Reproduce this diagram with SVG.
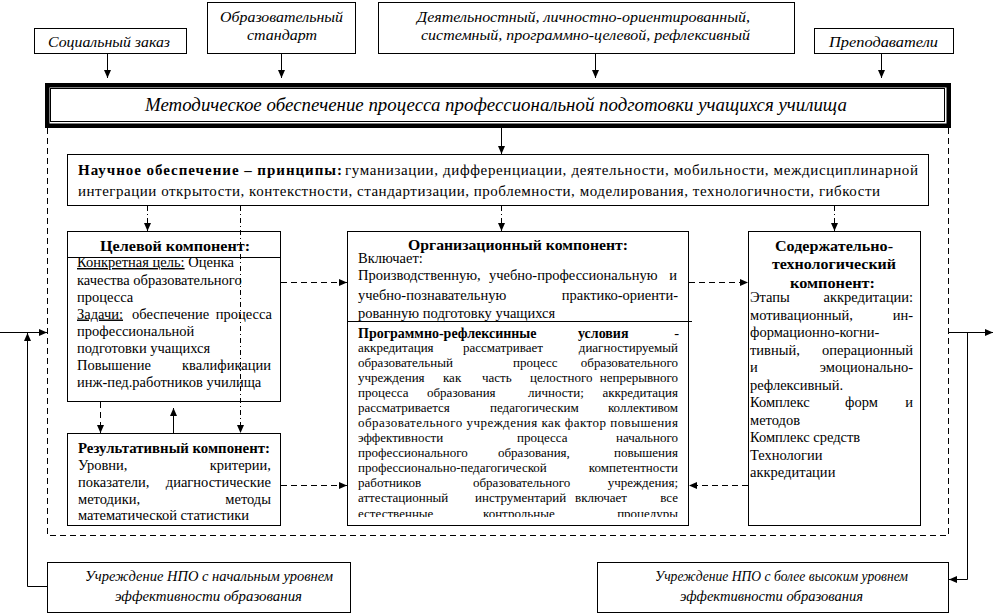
<svg xmlns="http://www.w3.org/2000/svg" width="996" height="615" viewBox="0 0 996 615">
<style>
.box{fill:#fff;stroke:#000;stroke-width:1}
.ln{fill:none;stroke:#000;stroke-width:1}
.dash{stroke-dasharray:6,4}
.dd{stroke-dasharray:5,3,1,3}
.it{font-family:"Liberation Serif","Times New Roman",serif;font-style:italic;font-size:15px;fill:#000}
.tx{font-family:"Liberation Serif","Times New Roman",serif;font-size:14.5px;fill:#000}
.sm{font-size:13px}
.b{font-weight:bold}
.u{text-decoration:underline}
.m{text-anchor:middle}
.e{text-anchor:end}
</style>
<defs>
<marker id="ah" markerUnits="userSpaceOnUse" markerWidth="9" markerHeight="7" refX="8" refY="3.5" orient="auto">
<path d="M0,0 L8,3.5 L0,7 z" fill="#000"/>
</marker>
<clipPath id="orgclip"><rect x="348" y="232" width="340" height="285"/></clipPath>
</defs>

<!-- Top source nodes -->
<g id="n-social">
<rect class="box" x="34.5" y="28.5" width="152" height="25"/>
<text class="it m" x="109" y="47" textLength="122" lengthAdjust="spacingAndGlyphs">Социальный заказ</text>
</g>
<g id="n-standard">
<rect class="box" x="207.5" y="2.5" width="148" height="51"/>
<text class="it m" x="281.5" y="22" textLength="123" lengthAdjust="spacingAndGlyphs">Образовательный</text>
<text class="it m" x="282" y="40" textLength="70" lengthAdjust="spacingAndGlyphs">стандарт</text>
</g>
<g id="n-approaches">
<rect class="box" x="378.5" y="2.5" width="416" height="51"/>
<text class="it m" x="583.5" y="22" textLength="333" lengthAdjust="spacingAndGlyphs">Деятельностный, личностно-ориентированный,</text>
<text class="it m" x="585.5" y="40" textLength="329" lengthAdjust="spacingAndGlyphs">системный, программно-целевой, рефлексивный</text>
</g>
<g id="n-teachers">
<rect class="box" x="814.5" y="28.5" width="139" height="25"/>
<text class="it m" x="883.5" y="47" textLength="109" lengthAdjust="spacingAndGlyphs">Преподаватели</text>
</g>

<!-- Title -->
<g id="n-title">
<rect x="47.25" y="85.25" width="901.5" height="40.5" fill="#fff" stroke="#000" stroke-width="4.5"/>
<rect x="50.5" y="88.5" width="894" height="33" fill="none" stroke="#000" stroke-width="1"/>
<text class="it m" x="496" y="111" style="font-size:19px" textLength="702" lengthAdjust="spacingAndGlyphs">Методическое обеспечение процесса профессиональной подготовки учащихся училища</text>
</g>

<!-- Science -->
<g id="n-science">
<rect class="box" x="67.5" y="154.5" width="861" height="51"/>
<text class="tx b" x="78" y="175" style="font-size:15px" textLength="264" lengthAdjust="spacing">Научное обеспечение – принципы:</text>
<text class="tx" x="345" y="175" style="font-size:15px" textLength="573" lengthAdjust="spacing">гуманизации, дифференциации, деятельности, мобильности, междисциплинарной</text>
<text class="tx" x="78" y="196" style="font-size:15px" textLength="802" lengthAdjust="spacing">интеграции открытости, контекстности, стандартизации, проблемности,  моделирования, технологичности, гибкости</text>
</g>

<!-- Target component -->
<g id="n-target">
<rect class="box" x="67.5" y="231.5" width="213" height="170"/>
<line class="ln" x1="67.5" y1="257.5" x2="280.5" y2="257.5"/>
<text class="tx b m" x="175" y="251" style="font-size:14px" textLength="150" lengthAdjust="spacingAndGlyphs">Целевой компонент:</text>
<text class="tx" x="77" y="267"><tspan class="u">Конкретная цель:</tspan> Оценка</text>
<text class="tx" x="77" y="285">качества образовательного</text>
<text class="tx" x="77" y="302">процесса</text>
<text class="tx" x="77" y="318.5"><tspan class="u">Задачи:</tspan></text>
<text class="tx" x="132" y="318.5">обеспечение</text>
<text class="tx e" x="272" y="318.5">процесса</text>
<text class="tx" x="77" y="336">профессиональной</text>
<text class="tx" x="77" y="352.5">подготовки учащихся</text>
<text class="tx" x="77" y="369.5">Повышение</text>
<text class="tx e" x="271" y="369.5">квалификации</text>
<text class="tx" x="77" y="387">инж-пед.работников училища</text>
</g>

<!-- Result component -->
<g id="n-result">
<rect class="box" x="67.5" y="433.5" width="213" height="92"/>
<text class="tx b" x="78" y="453" style="font-size:14px" textLength="192" lengthAdjust="spacingAndGlyphs">Результативный компонент:</text>
<text class="tx" x="78" y="470">Уровни,</text>
<text class="tx e" x="271" y="470">критерии,</text>
<text class="tx" x="78" y="487">показатели,</text>
<text class="tx e" x="271" y="487">диагностические</text>
<text class="tx" x="78" y="503.5">методики,</text>
<text class="tx e" x="271" y="503.5">методы</text>
<text class="tx" x="78" y="520">математической статистики</text>
</g>

<!-- Organizational component -->
<g id="n-org">
<rect class="box" x="347.5" y="231.5" width="341" height="294"/>
<text class="tx b m" x="518" y="250" style="font-size:14px" textLength="220" lengthAdjust="spacingAndGlyphs">Организационный компонент:</text>
<text class="tx" x="358" y="263">Включает:</text>
<text class="tx" x="358" y="280">Производственную,</text>
<text class="tx" x="489" y="280">учебно-профессиональную</text>
<text class="tx e" x="677" y="280">и</text>
<text class="tx" x="358" y="300">учебно-познавательную</text>
<text class="tx e" x="678" y="300">практико-ориенти-</text>
<text class="tx" x="358" y="318">рованную подготовку учащихся</text>
<line class="ln" x1="348" y1="321.5" x2="692" y2="321.5"/>
<text class="tx b" x="358" y="338" style="font-size:14px">Программно-рефлексинные</text>
<text class="tx b" x="578" y="338" style="font-size:14px">условия</text>
<text class="tx e" x="679" y="338">-</text>
<g clip-path="url(#orgclip)">
<text class="tx sm" x="358" y="352">аккредитация</text>
<text class="tx sm" x="463" y="352">рассматривает</text>
<text class="tx sm e" x="678" y="352">диагностируемый</text>
<text class="tx sm" x="358" y="367">образовательный</text>
<text class="tx sm" x="513" y="367">процесс</text>
<text class="tx sm e" x="678" y="367">образовательного</text>
<text class="tx sm" x="358" y="382">учреждения</text>
<text class="tx sm" x="443" y="382">как</text>
<text class="tx sm" x="482" y="382">часть</text>
<text class="tx sm" x="530" y="382">целостного</text>
<text class="tx sm e" x="678" y="382">непрерывного</text>
<text class="tx sm" x="358" y="397">процесса</text>
<text class="tx sm" x="427" y="397">образования</text>
<text class="tx sm" x="528" y="397">личности;</text>
<text class="tx sm e" x="678" y="397">аккредитация</text>
<text class="tx sm" x="358" y="412">рассматривается</text>
<text class="tx sm" x="490" y="412">педагогическим</text>
<text class="tx sm e" x="678" y="412">коллективом</text>
<text class="tx sm" x="358" y="427" textLength="320" lengthAdjust="spacing">образовательного учреждения как фактор повышения</text>
<text class="tx sm" x="358" y="442">эффективности</text>
<text class="tx sm" x="517" y="442">процесса</text>
<text class="tx sm e" x="678" y="442">начального</text>
<text class="tx sm" x="358" y="457">профессионального</text>
<text class="tx sm" x="498" y="457">образования,</text>
<text class="tx sm e" x="678" y="457">повышения</text>
<text class="tx sm" x="358" y="472">профессионально-педагогической</text>
<text class="tx sm e" x="678" y="472">компетентности</text>
<text class="tx sm" x="358" y="487">работников</text>
<text class="tx sm" x="473" y="487">образовательного</text>
<text class="tx sm e" x="678" y="487">учреждения;</text>
<text class="tx sm" x="358" y="502">аттестационный</text>
<text class="tx sm" x="475" y="502">инструментарий</text>
<text class="tx sm" x="575" y="502">включает</text>
<text class="tx sm e" x="678" y="502">все</text>
<text class="tx sm" x="358" y="518">естественные</text>
<text class="tx sm" x="483" y="518">контрольные</text>
<text class="tx sm e" x="678" y="518">процедуры</text>
</g>
</g>

<!-- Content-technological component -->
<g id="n-content">
<rect class="box" x="748.5" y="231.5" width="172" height="294"/>
<text class="tx b m" x="834" y="251" style="font-size:14px" textLength="118" lengthAdjust="spacingAndGlyphs">Содержательно-</text>
<text class="tx b m" x="834" y="269" style="font-size:14px" textLength="124" lengthAdjust="spacingAndGlyphs">технологический</text>
<text class="tx b m" x="832.5" y="288" style="font-size:14px" textLength="85" lengthAdjust="spacingAndGlyphs">компонент:</text>
<text class="tx" x="750" y="302">Этапы</text>
<text class="tx e" x="913" y="302">аккредитации:</text>
<text class="tx" x="750" y="319.5">мотивационный,</text>
<text class="tx e" x="913" y="319.5">ин-</text>
<text class="tx" x="750" y="337">формационно-когни-</text>
<text class="tx" x="750" y="354.5">тивный,</text>
<text class="tx e" x="913" y="354.5">операционный</text>
<text class="tx" x="750" y="372">и</text>
<text class="tx e" x="913" y="372">эмоционально-</text>
<text class="tx" x="750" y="389.5">рефлексивный.</text>
<text class="tx" x="750" y="407">Комплекс</text>
<text class="tx" x="845" y="407">форм</text>
<text class="tx e" x="913" y="407">и</text>
<text class="tx" x="750" y="424.5">методов</text>
<text class="tx" x="750" y="442">Комплекс средств</text>
<text class="tx" x="750" y="459.5">Технологии</text>
<text class="tx" x="750" y="477">аккредитации</text>
</g>

<!-- Bottom institutions -->
<g id="n-initial">
<rect class="box" x="47.5" y="562.5" width="303" height="50"/>
<text class="it m" x="209" y="581" style="font-size:14px" textLength="248" lengthAdjust="spacingAndGlyphs">Учреждение НПО с начальным уровнем</text>
<text class="it m" x="208.5" y="601" style="font-size:14px" textLength="187" lengthAdjust="spacingAndGlyphs">эффективности образования</text>
</g>
<g id="n-higher">
<rect class="box" x="597.5" y="562.5" width="351" height="50"/>
<text class="it m" x="781.5" y="581" style="font-size:14px" textLength="253" lengthAdjust="spacingAndGlyphs">Учреждение НПО с более высоким уровнем</text>
<text class="it m" x="771.5" y="601" style="font-size:14px" textLength="183" lengthAdjust="spacingAndGlyphs">эффективности образования</text>
</g>

<!-- Connectors -->
<g id="connectors">
<line class="ln" x1="107.5" y1="54" x2="107.5" y2="78" marker-end="url(#ah)"/>
<line class="ln" x1="281.5" y1="54" x2="281.5" y2="78" marker-end="url(#ah)"/>
<line class="ln" x1="595.5" y1="54" x2="595.5" y2="78" marker-end="url(#ah)"/>
<line class="ln" x1="881.5" y1="54" x2="881.5" y2="78" marker-end="url(#ah)"/>
<line class="ln" x1="501.5" y1="128" x2="501.5" y2="154" marker-end="url(#ah)"/>
<polyline class="ln dash" points="47.5,128 47.5,535.5 948.5,535.5 948.5,128"/>
<line class="ln dd" x1="147.5" y1="206" x2="147.5" y2="231" marker-end="url(#ah)"/>
<line class="ln dd" x1="240.5" y1="206" x2="240.5" y2="433" marker-end="url(#ah)"/>
<line class="ln dd" x1="501.5" y1="206" x2="501.5" y2="231" marker-end="url(#ah)"/>
<line class="ln dd" x1="834.5" y1="206" x2="834.5" y2="231" marker-end="url(#ah)"/>
<line class="ln dash" x1="100.5" y1="402" x2="100.5" y2="433" marker-end="url(#ah)"/>
<line class="ln" x1="173.5" y1="433" x2="173.5" y2="408" marker-end="url(#ah)"/>
<line class="ln dash" x1="281" y1="282.5" x2="347" y2="282.5" marker-end="url(#ah)"/>
<line class="ln dash" x1="281" y1="485.5" x2="347" y2="485.5" marker-end="url(#ah)"/>
<line class="ln dash" x1="689" y1="282.5" x2="748" y2="282.5" marker-end="url(#ah)"/>
<line class="ln dash" x1="748" y1="485.5" x2="689" y2="485.5" marker-end="url(#ah)"/>
<line class="ln" x1="0" y1="332.5" x2="47" y2="332.5" marker-end="url(#ah)"/>
<polyline class="ln" points="47,586.5 27.5,586.5 27.5,333" marker-end="url(#ah)"/>
<line class="ln" x1="948.5" y1="332.5" x2="993" y2="332.5" marker-end="url(#ah)"/>
<polyline class="ln" points="967.5,332.5 967.5,579.5 949,579.5" marker-end="url(#ah)"/>
</g>
</svg>
